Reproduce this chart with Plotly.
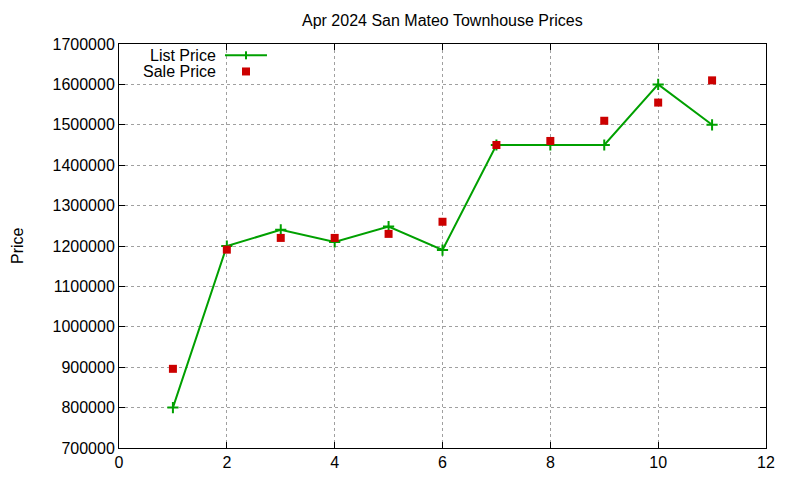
import plotly.graph_objects as go

# data
days = [1, 2, 3, 4, 5, 6, 7, 8, 9, 10, 11]
list_price = [800000, 1200000, 1240000, 1210000, 1248000, 1190000,
              1450000, 1450000, 1450000, 1600000, 1500000]
sale_price = [896000, 1191000, 1220000, 1220000, 1230000, 1260000,
              1450000, 1460000, 1510000, 1555000, 1610000]
x_ticks = [0, 2, 4, 6, 8, 10, 12]
y_ticks = list(range(700000, 1700001, 100000))
series_names = ["List Price", "Sale Price"]

green = "#00a000"
red = "#cc0000"
font = "Liberation Sans, Arial, sans-serif"

fig = go.Figure()
fig.add_trace(go.Scatter(
    x=days, y=list_price, name=series_names[0], mode="lines+markers",
    line=dict(color=green, width=2),
    marker=dict(symbol="cross-thin", size=8, line=dict(color=green, width=2)),
))
fig.add_trace(go.Scatter(
    x=days, y=sale_price, name=series_names[1], mode="markers",
    marker=dict(symbol="square", size=8, color=red),
))

axis_style = dict(
    showline=True, linecolor="black", linewidth=1, mirror="allticks",
    ticks="inside", ticklen=6, tickcolor="black",
    showgrid=True, gridcolor="#a0a0a0", griddash="dot", gridwidth=1,
    zeroline=False, tickfont=dict(size=16, color="black"),
)

fig.update_xaxes(range=[0, 12], tickvals=x_ticks, **axis_style)
fig.update_yaxes(range=[700000, 1700000], tickvals=y_ticks,
                 tickformat="d", **axis_style)

# gnuplot-style key: text right aligned, sample to the right
key_text_x = 0.1515
key_line = (0.1638, 0.2287)
key_mark_x = 0.1963
key_rows = [0.972, 0.932]

annotations = [
    dict(text="Apr 2024 San Mateo Townhouse Prices", x=0.5, y=1,
         xref="paper", yref="paper", yanchor="middle", yshift=24,
         showarrow=False, font=dict(size=16)),
    dict(text="Price", x=0, y=0.5, xref="paper", yref="paper",
         xanchor="center", yanchor="middle", xshift=-102, textangle=-90,
         borderpad=0, showarrow=False, font=dict(size=16)),
]
for name, row in zip(series_names, key_rows):
    annotations.append(dict(text=name, x=key_text_x, y=row, xref="paper",
                            yref="paper", xanchor="right", yanchor="middle",
                            borderpad=0, showarrow=False,
                            font=dict(size=16)))

shapes = [
    dict(type="line", xref="paper", yref="paper", x0=key_line[0],
         x1=key_line[1], y0=key_rows[0], y1=key_rows[0],
         line=dict(color=green, width=2)),
    dict(type="line", xref="paper", yref="paper", xsizemode="pixel",
         ysizemode="pixel", xanchor=key_mark_x, yanchor=key_rows[0],
         x0=0, x1=0, y0=-4, y1=4, line=dict(color=green, width=2)),
    dict(type="rect", xref="paper", yref="paper", xsizemode="pixel",
         ysizemode="pixel", xanchor=key_mark_x, yanchor=key_rows[1],
         x0=-4, x1=4, y0=-4, y1=4, fillcolor=red, line=dict(width=0)),
]

fig.update_layout(
    width=800, height=480,
    margin=dict(l=111, r=42, t=36, b=40),
    plot_bgcolor="white", paper_bgcolor="white",
    font=dict(family=font, size=16, color="black"),
    showlegend=False,
    annotations=annotations,
    shapes=shapes,
)

fig.write_html("out.html")
